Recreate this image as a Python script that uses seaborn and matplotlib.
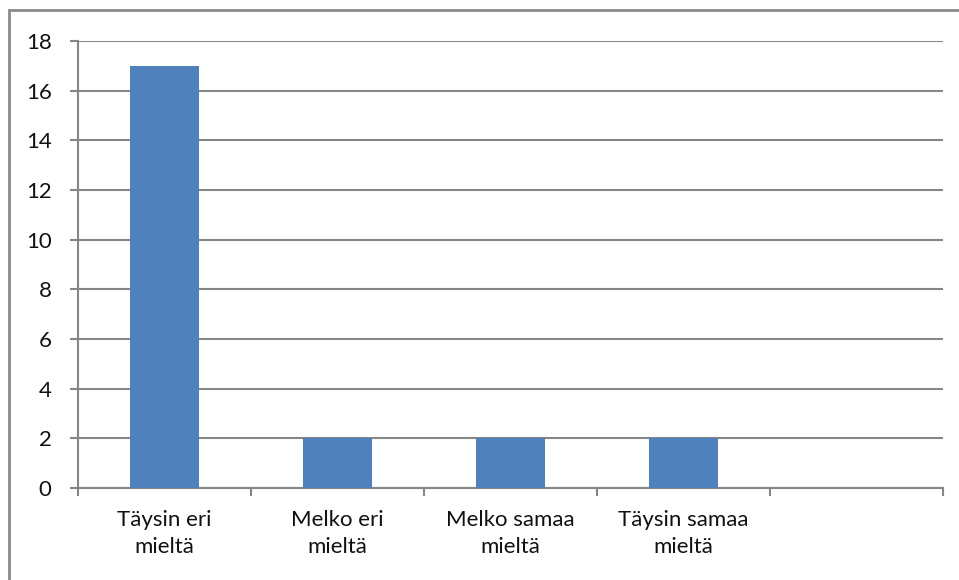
import numpy as np
import pandas as pd
import seaborn as sns
import matplotlib.pyplot as plt
from matplotlib.patches import Rectangle

# data
categories = ["Täysin eri\nmieltä", "Melko eri\nmieltä", "Melko samaa\nmieltä", "Täysin samaa\nmieltä", ""]
counts = [17, 2, 2, 2, np.nan]
y_ticks = [0, 2, 4, 6, 8, 10, 12, 14, 16, 18]

df = pd.DataFrame({"vastaus": categories, "lkm": counts})

sns.set_theme(style="white")
plt.rcParams["font.family"] = ["Lato", "DejaVu Sans"]

grey = "#868686"

fig = plt.figure(figsize=(9.59, 5.8), dpi=100)
ax = fig.add_axes([78 / 959, 1 - 488 / 580, 865 / 959, 447 / 580])

sns.barplot(data=df, x="vastaus", y="lkm", order=categories, color="#4F81BD",
            width=0.4, saturation=1, linewidth=0, ax=ax, zorder=3)

ax.set_xlim(-0.5, len(categories) - 0.5)
ax.set_ylim(0, 18)
ax.set_yticks(y_ticks)
ax.set_yticklabels([str(t) for t in y_ticks])
ax.yaxis.grid(True, color=grey, linewidth=1.5, zorder=0)
ax.set_axisbelow(True)

# category boundaries as major ticks, labels on minor ticks at the centres
ax.set_xticks(np.arange(len(categories) + 1) - 0.5)
ax.set_xticklabels([])
ax.set_xticks(np.arange(len(categories)), minor=True)
ax.set_xticklabels(categories, minor=True, fontsize=16, color="#111111",
                   linespacing=1.45)
ax.tick_params(axis="x", which="major", length=6, width=1.5, color=grey,
               direction="out", bottom=True)
ax.tick_params(axis="x", which="minor", length=0, pad=16, bottom=True)
ax.tick_params(axis="y", length=6, width=1.5, color=grey, direction="out",
               labelsize=16, labelcolor="#111111", pad=13, left=True)

ax.set_xlabel("")
ax.set_ylabel("")
for side in ["top", "right"]:
    ax.spines[side].set_visible(False)
for side in ["left", "bottom"]:
    ax.spines[side].set_color(grey)
    ax.spines[side].set_linewidth(1.5)

# outer chart frame, right and bottom edges cut off like the screenshot
fig.patches.append(Rectangle((9 / 959, -0.1), 1.2, 1.1 - 10 / 580,
                             transform=fig.transFigure, fill=False,
                             edgecolor="#898989", linewidth=2))

fig.savefig("out.png", dpi=100)
